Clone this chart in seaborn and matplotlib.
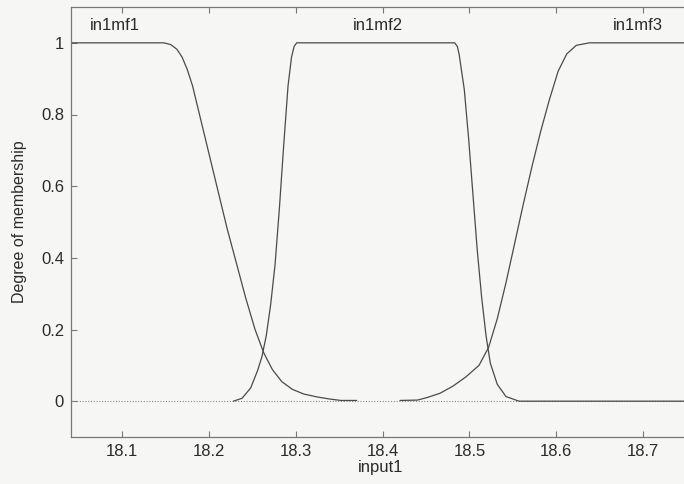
import matplotlib
matplotlib.use("Agg")
import matplotlib.pyplot as plt
import pandas as pd
import seaborn as sns

# Membership function curves
mf1_x = [18.041, 18.100, 18.148, 18.156, 18.163, 18.169, 18.175, 18.181, 18.188, 18.199,
         18.210, 18.221, 18.231, 18.242, 18.253, 18.263, 18.273, 18.284, 18.296, 18.309,
         18.324, 18.339, 18.352, 18.370]
mf1_y = [1.000, 1.000, 1.000, 0.995, 0.982, 0.960, 0.925, 0.880, 0.810, 0.700,
         0.590, 0.480, 0.390, 0.290, 0.200, 0.135, 0.088, 0.054, 0.033, 0.020,
         0.012, 0.006, 0.002, 0.002]

mf2_x = [18.228, 18.238, 18.248, 18.256, 18.261, 18.266, 18.271, 18.276, 18.281,
         18.286, 18.291, 18.295, 18.298, 18.301, 18.483, 18.486, 18.488, 18.494, 18.499,
         18.504, 18.509, 18.514, 18.519, 18.524, 18.532, 18.542, 18.557, 18.754]
mf2_y = [0.000, 0.008, 0.037, 0.086, 0.125, 0.184, 0.270, 0.380, 0.537,
         0.714, 0.880, 0.960, 0.990, 1.000, 1.000, 0.990, 0.969, 0.870, 0.733,
         0.576, 0.420, 0.290, 0.184, 0.106, 0.047, 0.013, 0.000, 0.000]

mf3_x = [18.420, 18.440, 18.451, 18.466, 18.481, 18.496, 18.511, 18.522, 18.532,
         18.542, 18.552, 18.562, 18.572, 18.582, 18.592, 18.602, 18.612, 18.623, 18.638,
         18.754]
mf3_y = [0.002, 0.003, 0.010, 0.022, 0.042, 0.068, 0.100, 0.150, 0.230,
         0.330, 0.440, 0.550, 0.655, 0.753, 0.841, 0.920, 0.969, 0.993, 1.000,
         1.000]

mf_names = ["in1mf1", "in1mf2", "in1mf3"]
label_x = [18.091, 18.394, 18.694]
x_ticks = [18.1, 18.2, 18.3, 18.4, 18.5, 18.6, 18.7]
y_ticks = [0, 0.2, 0.4, 0.6, 0.8, 1]
y_tick_labels = ["0", "0.2", "0.4", "0.6", "0.8", "1"]

frames = []
for name, xs, ys in zip(mf_names, [mf1_x, mf2_x, mf3_x], [mf1_y, mf2_y, mf3_y]):
    frames.append(pd.DataFrame({"input1": xs, "membership": ys, "mf": name}))
df = pd.concat(frames, ignore_index=True)

sns.set_style("white")
plt.rcParams["font.family"] = ["Liberation Sans", "DejaVu Sans"]

fig = plt.figure(figsize=(6.84, 4.84), dpi=100, facecolor="#f6f6f5")
# right edge of the axes sits just past the picture, as in the cropped scan
ax = fig.add_axes([71 / 684, 1 - 437 / 484, (690 - 71) / 684, 430 / 484])
ax.set_facecolor("#f6f6f5")

ax.axhline(0, color="#8a8a8a", lw=0.8, ls=(0, (1, 1.5)), zorder=1)

sns.lineplot(data=df, x="input1", y="membership", hue="mf", units="mf",
             estimator=None, sort=False, palette=["#4a4a4a"] * 3,
             linewidth=0.9, legend=False, ax=ax)

for name, lx in zip(mf_names, label_x):
    ax.text(lx, 1.047, name, ha="center", va="center", fontsize=12, color="#2b2b2b")

ax.set_xlim(18.041, 18.754)
ax.set_ylim(-0.1, 1.1)
ax.set_xticks(x_ticks)
ax.set_xticklabels([f"{t:.1f}" for t in x_ticks])
ax.set_yticks(y_ticks)
ax.set_yticklabels(y_tick_labels)
ax.tick_params(direction="in", length=4, width=0.8, color="#777777",
               labelsize=12, labelcolor="#2b2b2b", top=True, bottom=True, left=True, pad=5)
ax.set_xlabel("input1", fontsize=12, color="#2b2b2b", labelpad=1)
ax.set_ylabel("Degree of membership", fontsize=11.5, color="#2b2b2b", labelpad=10)

for side in ["left", "top", "bottom", "right"]:
    ax.spines[side].set_color("#777777")
    ax.spines[side].set_linewidth(0.9)

fig.savefig("out.png", dpi=100, facecolor=fig.get_facecolor())
